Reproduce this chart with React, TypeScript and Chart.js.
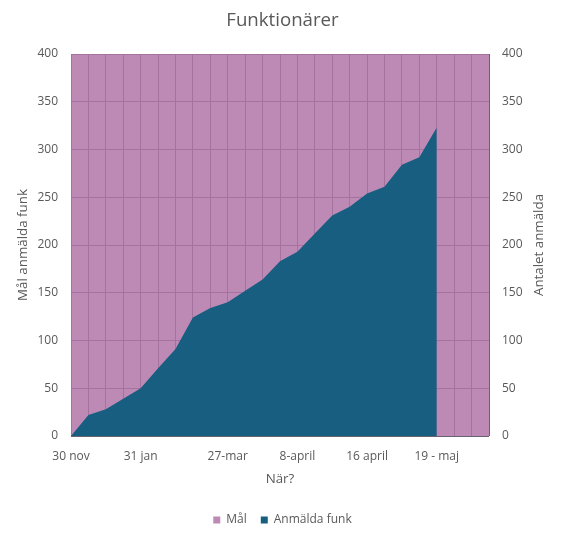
import React, { useEffect, useRef } from "react";
import { Chart, registerables } from "chart.js";

Chart.register(...registerables);

const categories: string[] = [
  "30 nov", "", "", "", "31 jan", "", "", "", "", "27-mar", "", "", "",
  "8-april", "", "", "", "16 april", "", "", "", "19 - maj", "", "", "",
];

const malValues: number[] = [
  400, 400, 400, 400, 400, 400, 400, 400, 400, 400, 400, 400, 400,
  400, 400, 400, 400, 400, 400, 400, 400, 400, 400, 400, 400,
];

const anmaldaValues: (number | null)[] = [
  0, 22, 28, 39, 50, 71, 91, 124, 134, 140, 152, 164, 183,
  193, 212, 231, 240, 254, 261, 284, 292, 323, null, null, null,
];

const yTicks = { min: 0, max: 400, step: 50 };

const FONT = "'Open Sans', sans-serif";
const TEXT = "#595959";

const rightTitlePlugin = {
  id: "rightTitle",
  afterDraw(chart: any) {
    const { ctx, chartArea } = chart;
    ctx.save();
    ctx.translate(539, (chartArea.top + chartArea.bottom) / 2);
    ctx.rotate(-Math.PI / 2);
    ctx.textAlign = "center";
    ctx.textBaseline = "middle";
    ctx.font = `13.33px ${FONT}`;
    ctx.fillStyle = TEXT;
    ctx.fillText("Antalet anmälda", 0, 0);
    ctx.restore();
  },
};

export default function App() {
  const ref = useRef<HTMLCanvasElement>(null);
  useEffect(() => {
    if (!ref.current) return;
    const chart = new Chart(ref.current, {
      type: "line",
      data: {
        labels: categories,
        datasets: [
          {
            label: "Anmälda funk",
            data: anmaldaValues,
            yAxisID: "y1",
            fill: "origin",
            backgroundColor: "#175E80",
            borderColor: "#175E80",
            borderWidth: 0,
            pointRadius: 0,
            spanGaps: false,
            tension: 0,
          },
          {
            label: "Mål",
            data: malValues,
            yAxisID: "y",
            fill: "origin",
            backgroundColor: "rgba(176,118,168,0.85)",
            borderColor: "rgba(176,118,168,0.85)",
            borderWidth: 0,
            pointRadius: 0,
            tension: 0,
          },
        ],
      },
      options: {
        animation: false,
        responsive: false,
        events: [],
        layout: { padding: { top: 0, left: 0, right: 0, bottom: 1 } },
        plugins: {
          title: {
            display: true,
            text: "Funktionärer",
            color: TEXT,
            font: { family: FONT, size: 18.67, weight: "normal", lineHeight: 1.2 },
            padding: { top: 9, bottom: 22.6 },
          },
          legend: {
            position: "bottom",
            reverse: true,
            labels: {
              color: TEXT,
              font: { family: FONT, size: 12 },
              boxWidth: 7,
              boxHeight: 7,
              padding: 14,
            },
          },
          tooltip: { enabled: false },
        },
        scales: {
          x: {
            type: "category",
            offset: false,
            grid: { display: true, color: "rgb(105,98,112)", drawTicks: false, offset: false },
            border: { display: false },
            ticks: {
              autoSkip: false,
              maxRotation: 0,
              minRotation: 0,
              color: TEXT,
              font: { family: FONT, size: 12 },
              padding: 13,
            },
            title: {
              display: true,
              text: "När?",
              color: TEXT,
              font: { family: FONT, size: 13.33, lineHeight: 1.2 },
              padding: { top: 0, bottom: 13 },
            },
            afterFit: (s: any) => {
              s.height = 64;
            },
          },
          y: {
            position: "left",
            min: yTicks.min,
            max: yTicks.max,
            grid: { color: "rgb(105,98,112)", drawTicks: false },
            border: { display: false },
            ticks: {
              stepSize: yTicks.step,
              color: TEXT,
              font: { family: FONT, size: 12 },
              padding: 13,
            },
            title: {
              display: true,
              text: "Mål anmälda funk",
              color: TEXT,
              font: { family: FONT, size: 13.33, lineHeight: 1.2 },
              padding: { top: 15, bottom: 0 },
            },
            afterFit: (s: any) => {
              s.width = 71;
            },
          },
          y1: {
            position: "right",
            min: yTicks.min,
            max: yTicks.max,
            grid: { display: false, drawTicks: false },
            border: { display: false },
            ticks: {
              stepSize: yTicks.step,
              color: TEXT,
              font: { family: FONT, size: 12 },
              padding: 13,
            },
            afterFit: (s: any) => {
              s.width = 76;
            },
          },
        },
      },
      plugins: [rightTitlePlugin],
    });
    return () => chart.destroy();
  }, []);
  return (
    <div style={{ position: "fixed", left: 0, top: 0, width: 565, height: 537, background: "#fff" }}>
      <canvas ref={ref} width={565} height={537} />
    </div>
  );
}
